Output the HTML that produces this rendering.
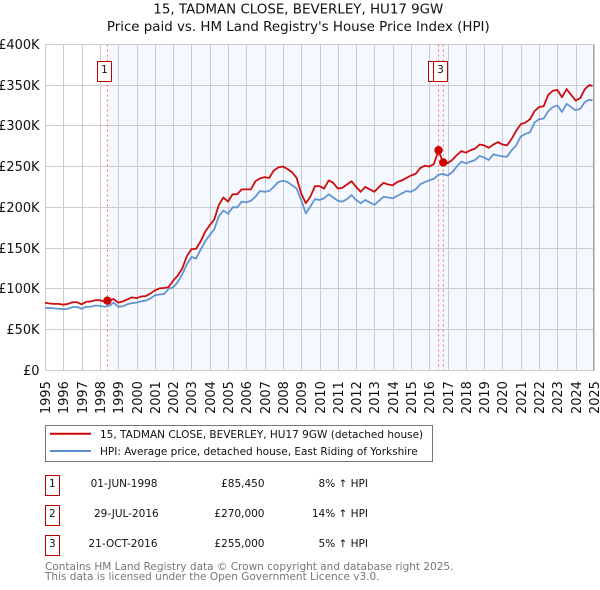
<!DOCTYPE html>
<html>
<head>
<meta charset="utf-8">
<style>
html,body{margin:0;padding:0;background:#fff;width:600px;height:590px;overflow:hidden}
svg{display:block;font-family:"DejaVu Sans","Liberation Sans",sans-serif}
</style>
</head>
<body>
<svg id="chart" xmlns="http://www.w3.org/2000/svg" width="600" height="590" viewBox="0 0 600 590">
  <text x="298.3" y="13.3" text-anchor="middle" font-size="13.4" fill="#111">15, TADMAN CLOSE, BEVERLEY, HU17 9GW</text>
  <text x="298.3" y="31" text-anchor="middle" font-size="13.4" fill="#111">Price paid vs. HM Land Registry's House Price Index (HPI)</text>
  <g id="plot"></g>

  <g>
    <rect x="45.5" y="425.5" width="387" height="36" fill="#fff" stroke="#777" stroke-width="1"/>
    <line x1="50" x2="91" y1="433.7" y2="433.7" stroke="#cc0000" stroke-width="2"/>
    <text x="100" y="438" font-size="10.5" fill="#111">15, TADMAN CLOSE, BEVERLEY, HU17 9GW (detached house)</text>
    <line x1="50" x2="91" y1="451" y2="451" stroke="#5b8fd0" stroke-width="2"/>
    <text x="100" y="455" font-size="10.5" fill="#111">HPI: Average price, detached house, East Riding of Yorkshire</text>
  </g>

  <g font-size="10.5" fill="#111">
    <rect x="45.5" y="475.5" width="14" height="20" fill="#fff" stroke="#bb0000"/>
    <text x="52.3" y="487" text-anchor="middle">1</text>
    <text x="157.5" y="487" text-anchor="end">01-JUN-1998</text>
    <text x="264.5" y="487" text-anchor="end">£85,450</text>
    <text x="368" y="487" text-anchor="end">8% ↑ HPI</text>

    <rect x="45.5" y="505.5" width="14" height="20" fill="#fff" stroke="#bb0000"/>
    <text x="52.3" y="517" text-anchor="middle">2</text>
    <text x="158.7" y="517" text-anchor="end">29-JUL-2016</text>
    <text x="264.5" y="517" text-anchor="end">£270,000</text>
    <text x="368" y="517" text-anchor="end">14% ↑ HPI</text>

    <rect x="45.5" y="535.5" width="14" height="20" fill="#fff" stroke="#bb0000"/>
    <text x="52.3" y="547" text-anchor="middle">3</text>
    <text x="157.5" y="547" text-anchor="end">21-OCT-2016</text>
    <text x="264.5" y="547" text-anchor="end">£255,000</text>
    <text x="368" y="547" text-anchor="end">5% ↑ HPI</text>
  </g>

  <text x="45" y="570" font-size="10.5" fill="#777">Contains HM Land Registry data © Crown copyright and database right 2025.</text>
  <text x="45" y="580" font-size="10.5" fill="#777">This data is licensed under the Open Government Licence v3.0.</text>
</svg>
<script>
const yearTicks = [1995,1996,1997,1998,1999,2000,2001,2002,2003,2004,2005,2006,2007,2008,2009,2010,2011,2012,2013,2014,2015,2016,2017,2018,2019,2020,2021,2022,2023,2024,2025];
const priceTicks = [0,50,100,150,200,250,300,350,400];
const priceTickLabels = ['£0','£50K','£100K','£150K','£200K','£250K','£300K','£350K','£400K'];
const firstYear = 1995;
const lastYear = 2024.92;
// quarterly readings in £K, 1995 Q1 onward, final reading at lastYear
const hpiValues = [
76.6,76.5,76,75.5, 75,75.5,77.5,77.8, 75.5,78,78,79.5, 79,78,79,83, 78,78.5,81,82.5,
83,84.5,85.5,88, 92,93,93.5,100, 101.7,108,118,130, 139,137,148,158, 166,173,189,196,
192,200,200,207, 206,208,213,220, 219,220,225,231, 232.6,231,227,223, 209,192.5,201,210,
209,211,216,212, 208,207,210,215, 209,205,209,206, 203,208,213,212, 211,214,217,220,
219,222,228,231, 233,235,240,241, 239,243,250,256, 254,256,258,263, 261,258,265,263.5,
262.5,262,270,276, 287,290,292,304, 308,309,318,323, 325,317,327,323, 319,321,329,332, 331];
const priceValues = [
82.8,82,81.5,81.5, 80.5,81.5,83.5,83.5, 81,84,84.5,86, 86,84,85.45,87.5, 83,84.5,87,89.5,
88.5,90.5,91,94, 98,100.5,101,102, 110,116,125,140, 148.7,149,158,170, 178,185,203,212,
207,216,216,222, 222,222,232,235.5, 237,236,245,249, 250,247,243,236, 217,205,213,226,
226,223,233,230, 223,224,228,232, 225,219,225,222, 219,225,230,228, 227,231,233,236,
239,241,248,251, 250,253,270,255, 254,258,264,269, 267,270,272,277, 276,273,277,280,
277,276,284,294, 302,304,308,318, 323,324,338,343, 344,335,345,338, 331,334,345,350, 349];
const saleDates = [1998.39,2016.49,2016.75];
const salePrices = [85.45,270,255];
const saleLabels = ['1','2','3'];

const NS = 'http://www.w3.org/2000/svg';
const plot = document.getElementById('plot');
function mk(tag, attrs, parent){
  const el = document.createElementNS(NS, tag);
  for (const k in attrs) el.setAttribute(k, attrs[k]);
  (parent || plot).appendChild(el);
  return el;
}
const X0 = 45.02, PX_PER_DAY = 549 / 10958, Y0 = 369.9, PX_PER_K = 0.815;
function xScale(y){
  const w = Math.floor(y);
  const d = (Date.UTC(w,0,1) - Date.UTC(firstYear,0,1)) / 864e5 + (y - w) * 365.25;
  return X0 + d * PX_PER_DAY;
}
function yScale(v){ return Y0 - v * PX_PER_K; }
function snap(p){ return Math.round(p) + 0.5; }

const left = snap(xScale(yearTicks[0]));
const right = snap(xScale(yearTicks[yearTicks.length-1]));
const top_ = snap(yScale(priceTicks[priceTicks.length-1]));
const bottom = snap(yScale(priceTicks[0]));

const band = mk('rect', {x: snap(xScale(saleDates[0])), y: top_, width: xScale(lastYear) - xScale(saleDates[0]), height: bottom - top_, fill: '#f5f8fe'});



yearTicks.forEach(function(t){
  const px = snap(xScale(t));
  const g = mk('line', {x1: px, x2: px, y1: top_, y2: bottom, stroke: '#cccccc', 'stroke-width': 1});
  
  
  const lab = mk('text', {transform: 'translate(' + (px + 4.5) + ',' + (bottom + 43.5) + ') rotate(-90)', 'font-size': 12.9, fill: '#111'});
  lab.textContent = t;
  
  
});
priceTicks.forEach(function(t, i){
  const py = snap(yScale(t));
  const g = mk('line', {x1: left, x2: right, y1: py, y2: py, stroke: '#cccccc', 'stroke-width': 1});
  
  
  const lab = mk('text', {x: 39.5, y: py + 4.5, 'text-anchor': 'end', 'font-size': 12.9, fill: '#111'});
  lab.textContent = priceTickLabels[i];
  
  
});

const endLine = mk('line', {x1: snap(xScale(lastYear)), x2: snap(xScale(lastYear)), y1: top_, y2: bottom, stroke: '#a4a4a4', 'stroke-width': 1});


for (let v = 15; v < 400; v += 15){
  const tk = mk('line', {x1: snap(xScale(lastYear)), x2: right, y1: snap(yScale(v)), y2: snap(yScale(v)), stroke: '#bbbbbb', 'stroke-width': 1});
  
  
}

saleDates.forEach(function(d){
  const px = xScale(d) + 0.3;
  const l = mk('line', {x1: px, x2: px, y1: top_, y2: bottom, stroke: '#f07070', 'stroke-width': 1, 'stroke-dasharray': '2,3'});
  
  
});

function seriesPath(vals){
  return vals.map(function(v, i){
    const yr = i < vals.length - 1 ? firstYear + i / 4 : lastYear;
    return (i ? 'L' : 'M') + xScale(yr).toFixed(2) + ' ' + (yScale(v) + 0.4).toFixed(2);
  }).join('');
}
const hpiLine = mk('path', {d: seriesPath(hpiValues), fill: 'none', stroke: '#5b8fd0', 'stroke-width': 1.8, 'stroke-linejoin': 'round', opacity: 0.95});


const priceLine = mk('path', {d: seriesPath(priceValues), fill: 'none', stroke: '#cc0000', 'stroke-width': 1.8, 'stroke-linejoin': 'round', opacity: 0.95});



saleDates.forEach(function(d, i){
  const m = mk('circle', {cx: xScale(d) + 0.3, cy: yScale(salePrices[i]) + 0.4, r: 4.2, fill: '#cc0000'});
  
  
});
saleDates.forEach(function(d, i){
  const bx = Math.floor(xScale(d)) - 9.5;
  const b = mk('rect', {x: bx, y: 61.5, width: 14, height: 20, fill: '#fff', stroke: '#bb0000', 'stroke-width': 1});
  
  
  const t = mk('text', {x: bx + 7, y: 73, 'text-anchor': 'middle', 'font-size': 10.5, fill: '#111'});
  t.textContent = saleLabels[i];
  
  
});
</script>
</body>
</html>
